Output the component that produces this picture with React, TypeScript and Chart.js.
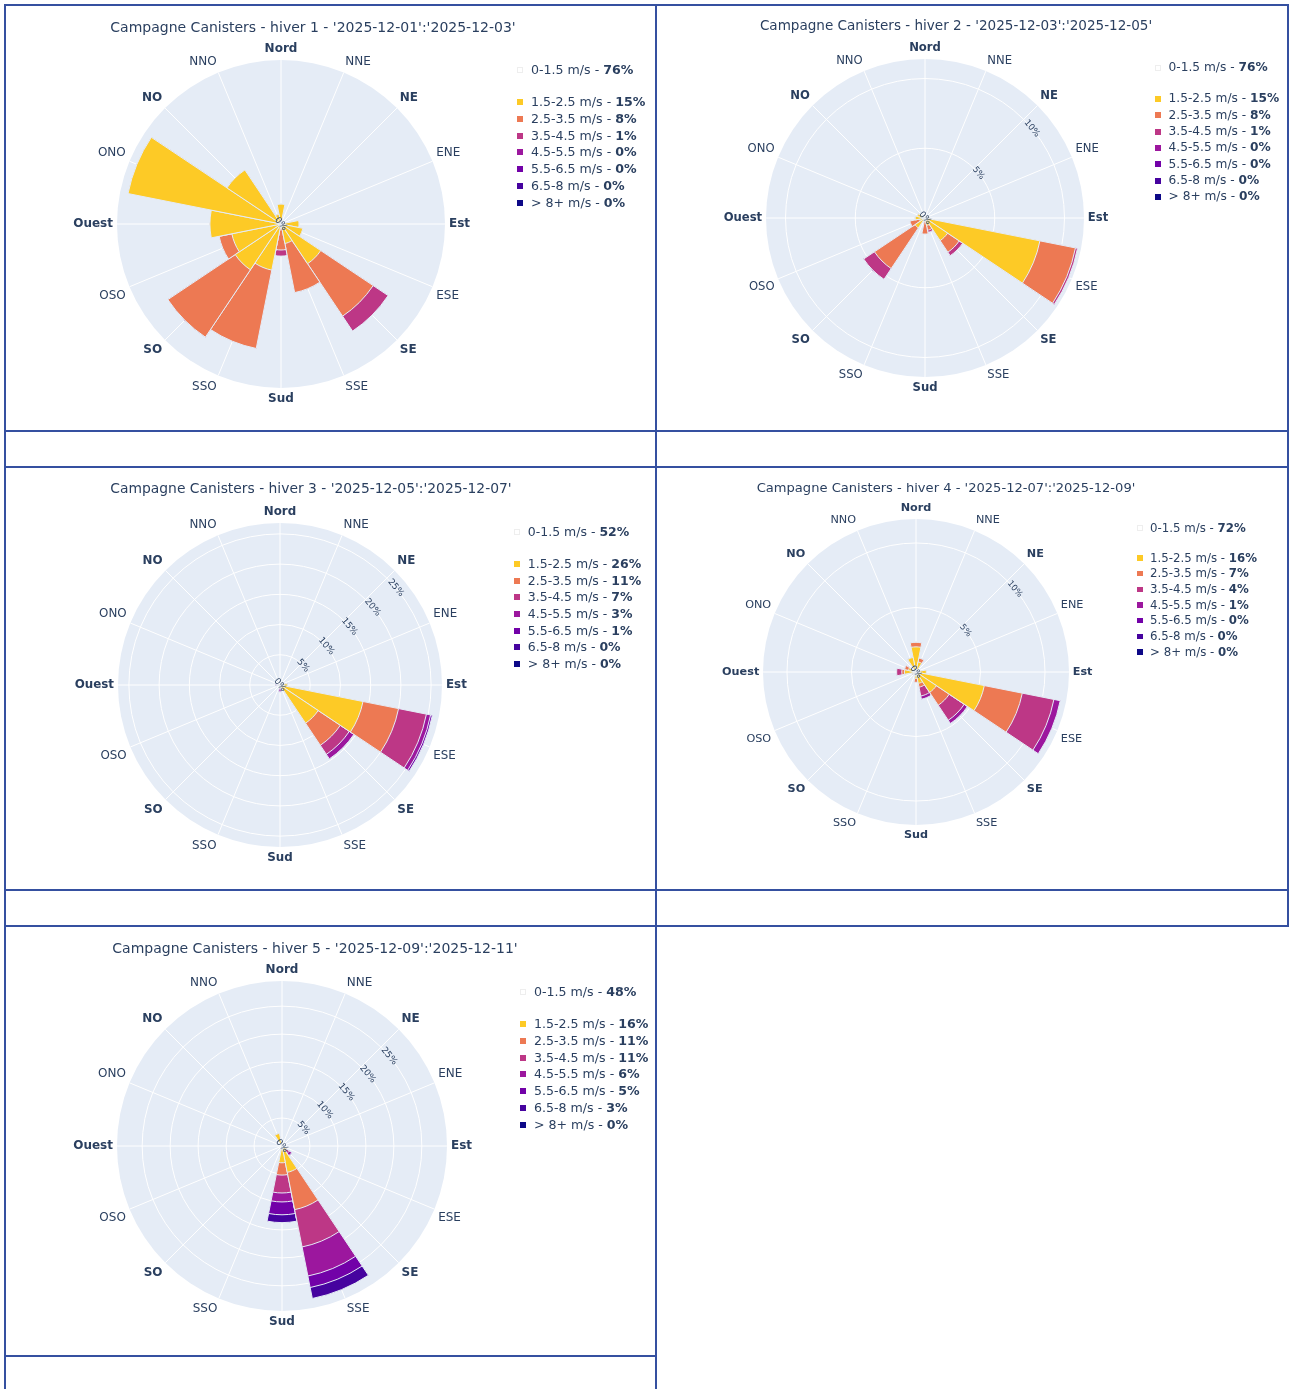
import React, { useEffect, useRef } from 'react';
import { Chart, registerables } from 'chart.js';

Chart.register(...registerables);

// ---------- data ----------
const DIRECTIONS = ['Nord', 'NNE', 'NE', 'ENE', 'Est', 'ESE', 'SE', 'SSE', 'Sud', 'SSO', 'SO', 'OSO', 'Ouest', 'ONO', 'NO', 'NNO'];
const SPEED_CLASSES = ['0-1.5 m/s', '1.5-2.5 m/s', '2.5-3.5 m/s', '3.5-4.5 m/s', '4.5-5.5 m/s', '5.5-6.5 m/s', '6.5-8 m/s', '> 8+ m/s'];
const TITLES = [
  "Campagne Canisters - hiver 1 - '2025-12-01':'2025-12-03'",
  "Campagne Canisters - hiver 2 - '2025-12-03':'2025-12-05'",
  "Campagne Canisters - hiver 3 - '2025-12-05':'2025-12-07'",
  "Campagne Canisters - hiver 4 - '2025-12-07':'2025-12-09'",
  "Campagne Canisters - hiver 5 - '2025-12-09':'2025-12-11'",
];

// order: N, NNE, NE, ENE, E, ESE, SE, SSE, S, SSO, SO, OSO, O, ONO, NO, NNO  (values in %)
const Z = [0, 0, 0, 0, 0, 0, 0, 0, 0, 0, 0, 0, 0, 0, 0, 0];

// hiver 1
const H1_15_25 = [0.52, 0, 0, 0, 0.47, 0.58, 1.25, 0.52, 0.05, 1.23, 1.44, 1.31, 1.86, 4.08, 1.70, 0.26];
const H1_25_35 = [0, 0, 0, 0, 0, 0, 1.65, 1.31, 0.63, 2.09, 2.12, 0.34, 0, 0, 0, 0];
const H1_35_45 = [0, 0, 0, 0, 0, 0, 0.47, 0, 0.16, 0, 0, 0, 0, 0, 0, 0];
const H1_PCT = [76, 15, 8, 1, 0, 0, 0, 0];

// hiver 2
const H2_15_25 = [0, 0, 0, 0, 0.3, 8.4, 1.95, 0.55, 0.25, 0, 0.86, 0.4, 0.7, 0.55, 0, 0];
const H2_25_35 = [0, 0, 0, 0, 0, 2.6, 1.0, 0.35, 0.9, 0, 3.5, 0.7, 0, 0, 0, 0];
const H2_35_45 = [0, 0, 0, 0, 0, 0.15, 0.3, 0.15, 0, 0, 0.93, 0, 0, 0, 0, 0];
const H2_PCT = [76, 15, 8, 1, 0, 0, 0, 0];

// hiver 3
const H3_15_25 = [0, 0, 0, 0, 1.2, 14.0, 7.6, 0, 0.3, 0, 0, 0, 0.3, 0, 0, 0];
const H3_25_35 = [0, 0, 0, 0, 0, 6.0, 4.4, 0, 0, 0, 0, 0, 0.2, 0, 0, 0];
const H3_35_45 = [0, 0, 0, 0, 0, 4.7, 1.8, 0, 0.3, 0, 0, 0, 0, 0, 0, 0];
const H3_45_55 = [0, 0, 0, 0, 0, 0.7, 0.9, 0, 0.5, 0, 0, 0, 0.2, 0, 0, 0];
const H3_55_65 = [0, 0, 0, 0, 0, 0.3, 0, 0, 0, 0, 0, 0, 0, 0, 0, 0];
const H3_PCT = [52, 26, 11, 7, 3, 1, 0, 0];

// hiver 4
const H4_15_25 = [1.95, 0.8, 0, 0, 0.8, 5.4, 1.9, 0.9, 0.5, 0, 0, 0.3, 0.9, 0.6, 0, 1.15];
const H4_25_35 = [0.35, 0.3, 0, 0, 0, 3.0, 1.2, 0.3, 0.3, 0, 0, 0, 0.2, 0.3, 0, 0];
const H4_35_45 = [0, 0, 0, 0, 0, 2.5, 1.4, 0.7, 0, 0, 0, 0, 0.4, 0, 0, 0];
const H4_45_55 = [0, 0, 0, 0, 0, 0.5, 0.3, 0.25, 0, 0, 0, 0, 0, 0, 0, 0];
const H4_PCT = [72, 16, 7, 4, 1, 0, 0, 0];

// hiver 5
const H5_15_25 = [0, 0, 0, 0, 0, 0, 1.0, 4.8, 3.0, 0, 0, 0, 0, 0, 0, 2.3];
const H5_25_35 = [0, 0, 0, 0, 0, 0, 0, 6.8, 2.2, 0, 0, 0, 0, 0, 0, 0];
const H5_35_45 = [0, 0, 0, 0, 0, 0, 0.6, 6.8, 3.2, 0, 0, 0, 0, 0, 0, 0];
const H5_45_55 = [0, 0, 0, 0, 0, 0, 0.5, 5.3, 1.6, 0, 0, 0, 0, 0, 0, 0];
const H5_55_65 = [0, 0, 0, 0, 0, 0, 0, 2.1, 2.3, 0, 0, 0, 0, 0, 0, 0];
const H5_65_8 = [0, 0, 0, 0, 0, 0, 0, 2.0, 1.4, 0, 0, 0, 0, 0, 0, 0];
const H5_PCT = [48, 16, 11, 11, 6, 5, 3, 0];

const PANEL_VALUES = [
  [H1_15_25, H1_25_35, H1_35_45, Z, Z, Z, Z],
  [H2_15_25, H2_25_35, H2_35_45, Z, Z, Z, Z],
  [H3_15_25, H3_25_35, H3_35_45, H3_45_55, H3_55_65, Z, Z],
  [H4_15_25, H4_25_35, H4_35_45, H4_45_55, Z, Z, Z],
  [H5_15_25, H5_25_35, H5_35_45, H5_45_55, H5_55_65, H5_65_8, Z],
];
const PANEL_PCT = [H1_PCT, H2_PCT, H3_PCT, H4_PCT, H5_PCT];
const R_MAX = [4.29, 11.4, 26.8, 11.86, 29.5];
const R_STEP = [0, 5, 5, 5, 5];

// ---------- styles ----------
const CLASS_COLORS = ['#ffffff', '#fdca26', '#ed7953', '#bd3786', '#9c179e', '#7201a8', '#46039f', '#0d0887'];
const FONT = '"DejaVu Sans", Verdana, sans-serif';
const TEXT = '#2a3f5f';
const POLAR_BG = '#E5ECF6';
const BORDER = '#3550a0';

type PanelLayout = { cx: number; cy: number; R: number; k: number; tx: number; ty: number; lx: number; ly0: number; ly1: number; ldy: number };
const LAYOUT: PanelLayout[] = [
  { cx: 281, cy: 224, R: 164, k: 1, tx: 313, ty: 27, lx: 517, ly0: 70, ly1: 102, ldy: 16.83 },
  { cx: 925, cy: 218, R: 159, k: 0.968, tx: 956, ty: 26, lx: 1155, ly0: 68, ly1: 99, ldy: 16.33 },
  { cx: 280, cy: 685, R: 162, k: 0.99, tx: 311, ty: 489, lx: 514, ly0: 532, ly1: 564, ldy: 16.67 },
  { cx: 916, cy: 672, R: 153, k: 0.935, tx: 946, ty: 488, lx: 1137, ly0: 528, ly1: 558, ldy: 15.67 },
  { cx: 282, cy: 1146, R: 165, k: 1, tx: 315, ty: 948, lx: 520, ly0: 992, ly1: 1024, ldy: 16.83 },
];

const syncPlugin = {
  id: 'syncRadial',
  afterLayout(chart: any) {
    const r = chart.scales.r;
    ['r2', 'r3'].forEach((id) => {
      const s = chart.scales[id];
      if (!s) return;
      s.xCenter = r.xCenter;
      s.yCenter = r.yCenter;
      s.drawingArea = r.drawingArea;
    });
  },
};

function Panel({ idx }: { idx: number }) {
  const L = LAYOUT[idx];
  const k = L.k;
  const half = Math.round(L.R + 95 * k);
  const ref = useRef<HTMLCanvasElement>(null);

  useEffect(() => {
    const canvas = ref.current;
    if (!canvas) return;
    const classes = PANEL_VALUES[idx];
    const rmax = R_MAX[idx];
    const step = R_STEP[idx];
    const cum: number[][] = [];
    let run = DIRECTIONS.map(() => 0);
    classes.forEach((arr) => {
      run = run.map((v, i) => v + arr[i]);
      cum.push(run);
    });
    const pad = { left: 0, right: 0, top: 0, bottom: 0 };
    const chart = new Chart(canvas, {
      type: 'polarArea',
      data: {
        labels: DIRECTIONS,
        datasets: cum.map((arr, i) => ({
          label: SPEED_CLASSES[i + 1],
          data: arr,
          rAxisID: 'r',
          backgroundColor: CLASS_COLORS[i + 1],
          borderColor: POLAR_BG,
          borderWidth: 1,
        })),
      } as any,
      options: {
        responsive: false,
        maintainAspectRatio: false,
        animation: false,
        devicePixelRatio: 1,
        layout: { padding: { ...pad } },
        plugins: { legend: { display: false }, title: { display: false }, tooltip: { enabled: false } },
        scales: {
          r: {
            type: 'radialLinear',
            axis: 'r',
            min: 0,
            max: rmax,
            startAngle: -11.25,
            backgroundColor: POLAR_BG,
            grid: { display: step > 0, circular: true, color: '#ffffff', lineWidth: 1 },
            angleLines: { display: false },
            ticks: { display: false, stepSize: step > 0 ? step : rmax, includeBounds: false },
            pointLabels: {
              display: true,
              centerPointLabels: true,
              padding: 4 * k,
              color: TEXT,
              font: (ctx: any) => ({ family: FONT, size: 12 * k, weight: ctx.index % 2 === 0 ? 'bold' : 'normal' }),
            },
          },
          r2: {
            type: 'radialLinear',
            axis: 'r',
            min: 0,
            max: rmax,
            startAngle: 0,
            grid: { display: false },
            angleLines: { display: true, color: '#ffffff', lineWidth: 1 },
            ticks: { display: false },
            pointLabels: { display: false },
          },
          r3: {
            type: 'radialLinear',
            axis: 'r',
            min: -0.0001,
            max: rmax,
            startAngle: 50,
            grid: { display: false },
            angleLines: { display: false },
            pointLabels: { display: false },
            ticks: {
              display: true,
              z: 1,
              stepSize: step > 0 ? step : rmax * 10,
              includeBounds: false,
              showLabelBackdrop: false,
              color: TEXT,
              font: { family: FONT, size: 9 * k },
              callback: (v: any) => {
                const n = Number(v);
                if (step === 0 && Math.abs(n) > 1e-9) return '';
                if (step > 0 && Math.abs(n / step - Math.round(n / step)) > 1e-6) return '';
                return Math.round(n) + '%';
              },
            },
          },
        } as any,
      },
      plugins: [syncPlugin],
    });
    for (let pass = 0; pass < 5; pass++) {
      const s: any = chart.scales.r;
      const dx = half - s.xCenter;
      const dy = half - s.yCenter;
      const dr = L.R - s.drawingArea;
      if (dx === 0 && dy === 0 && dr === 0) break;
      pad.left += dx - dr;
      pad.right += -dx - dr;
      pad.top += dy - dr;
      pad.bottom += -dy - dr;
      (chart.options as any).layout.padding = { ...pad };
      chart.update();
    }
    return () => chart.destroy();
  }, [idx]);

  const pct = PANEL_PCT[idx];
  const fs = 12.6 * k;
  const lh = 16 * k;
  const ms = 6 * k;
  return (
    <>
      <canvas
        ref={ref}
        width={2 * half}
        height={2 * half}
        style={{ position: 'absolute', left: L.cx - half, top: L.cy - half, width: 2 * half, height: 2 * half }}
      />
      <div
        style={{
          position: 'absolute', left: L.tx, top: L.ty, transform: 'translate(-50%, -50%)',
          whiteSpace: 'nowrap', font: `${14 * k}px ${FONT}`, color: TEXT, lineHeight: 1,
        }}
      >
        {TITLES[idx]}
      </div>
      {SPEED_CLASSES.map((name, i) => {
        const y = i === 0 ? L.ly0 : L.ly1 + (i - 1) * L.ldy;
        return (
          <React.Fragment key={name}>
            <div
              style={{
                position: 'absolute', left: L.lx, top: y - ms / 2, width: ms, height: ms,
                background: CLASS_COLORS[i], boxSizing: 'border-box',
                border: i === 0 ? '1px solid #eeeeee' : 'none',
              }}
            />
            <div
              style={{
                position: 'absolute', left: L.lx + 14 * k, top: y - lh / 2, height: lh, lineHeight: `${lh}px`,
                whiteSpace: 'nowrap', fontFamily: FONT, fontSize: fs, color: TEXT,
              }}
            >
              {name} - <b>{pct[i]}%</b>
            </div>
          </React.Fragment>
        );
      })}
    </>
  );
}

function Line({ x, y, w, h }: { x: number; y: number; w: number; h: number }) {
  return <div style={{ position: 'absolute', left: x, top: y, width: w, height: h, background: BORDER }} />;
}

export default function App() {
  return (
    <div style={{ position: 'absolute', left: 0, top: 0, width: 1289, height: 1389, overflow: 'hidden', background: '#ffffff' }}>
      {/* table grid */}
      <Line x={4} y={4} w={1285} h={2} />
      <Line x={4} y={430} w={1285} h={2} />
      <Line x={4} y={466} w={1285} h={2} />
      <Line x={4} y={889} w={1285} h={2} />
      <Line x={4} y={925} w={1285} h={2} />
      <Line x={4} y={1355} w={653} h={2} />
      <Line x={4} y={4} w={2} h={1385} />
      <Line x={655} y={4} w={2} h={1385} />
      <Line x={1287} y={4} w={2} h={923} />
      {[0, 1, 2, 3, 4].map((i) => (
        <Panel key={i} idx={i} />
      ))}
    </div>
  );
}
